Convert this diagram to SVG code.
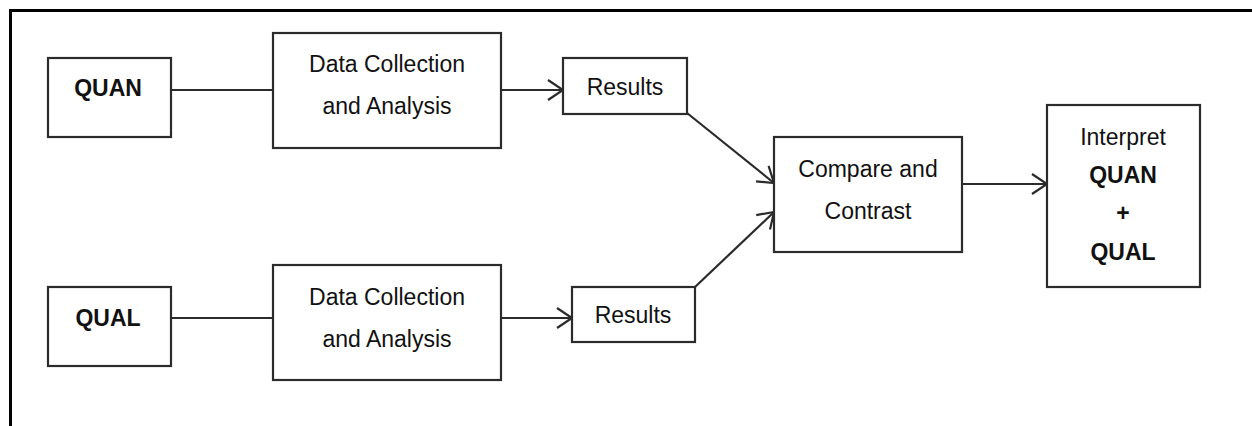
<svg xmlns="http://www.w3.org/2000/svg" width="1252" height="426" viewBox="0 0 1252 426">
  <defs>
    <style>
      .box { fill: #ffffff; stroke: #2b2b2b; stroke-width: 2.2; }
      .t { font-family: "Liberation Sans", Arial, sans-serif; font-size: 23px; fill: #111111; text-anchor: middle; }
      .b { font-weight: bold; }
      .edge { fill: none; stroke: #2b2b2b; stroke-width: 2.2; }
      .frame { fill: none; stroke: #000000; stroke-width: 3; }
    </style>
    <marker id="arrow" markerUnits="userSpaceOnUse" viewBox="-18 -13 20 26" markerWidth="20" markerHeight="26" refX="0" refY="0" orient="auto">
      <path d="M-15,-10 L0,0 L-15,10" fill="none" stroke="#2b2b2b" stroke-width="2.2" stroke-linejoin="miter"/>
    </marker>
  </defs>
  <rect x="0" y="0" width="1252" height="426" fill="#ffffff"/>
  <path class="frame" d="M10.5,426 L10.5,10.5 L1252,10.5"/>

  <g id="connectors">
    <line class="edge" x1="171" y1="90" x2="273" y2="90"/>
    <line class="edge" x1="501" y1="90" x2="563" y2="90" marker-end="url(#arrow)"/>
    <line class="edge" x1="687" y1="113" x2="774" y2="183" marker-end="url(#arrow)"/>
    <line class="edge" x1="171" y1="318" x2="273" y2="318"/>
    <line class="edge" x1="501" y1="318" x2="572" y2="318" marker-end="url(#arrow)"/>
    <line class="edge" x1="695" y1="287" x2="774" y2="212" marker-end="url(#arrow)"/>
    <line class="edge" x1="962" y1="184" x2="1047" y2="184" marker-end="url(#arrow)"/>
  </g>

  <g id="quan">
    <rect class="box" x="48" y="58" width="123" height="79"/>
    <text class="t b" x="108" y="96">QUAN</text>
  </g>
  <g id="dca-quan">
    <rect class="box" x="273" y="33" width="228" height="115"/>
    <text class="t" x="387" y="72">Data Collection</text>
    <text class="t" x="387" y="114">and Analysis</text>
  </g>
  <g id="results-quan">
    <rect class="box" x="563" y="58" width="124" height="56"/>
    <text class="t" x="625" y="95">Results</text>
  </g>
  <g id="qual">
    <rect class="box" x="48" y="287" width="123" height="79"/>
    <text class="t b" x="108" y="326">QUAL</text>
  </g>
  <g id="dca-qual">
    <rect class="box" x="273" y="265" width="228" height="115"/>
    <text class="t" x="387" y="305">Data Collection</text>
    <text class="t" x="387" y="347">and Analysis</text>
  </g>
  <g id="results-qual">
    <rect class="box" x="572" y="287" width="123" height="55"/>
    <text class="t" x="633" y="323">Results</text>
  </g>
  <g id="compare">
    <rect class="box" x="774" y="137" width="188" height="115"/>
    <text class="t" x="868" y="177">Compare and</text>
    <text class="t" x="868" y="219">Contrast</text>
  </g>
  <g id="interpret">
    <rect class="box" x="1047" y="105" width="153" height="182"/>
    <text class="t" x="1123" y="145">Interpret</text>
    <text class="t b" x="1123" y="183">QUAN</text>
    <text class="t b" x="1123" y="221">+</text>
    <text class="t b" x="1123" y="260">QUAL</text>
  </g>
</svg>
